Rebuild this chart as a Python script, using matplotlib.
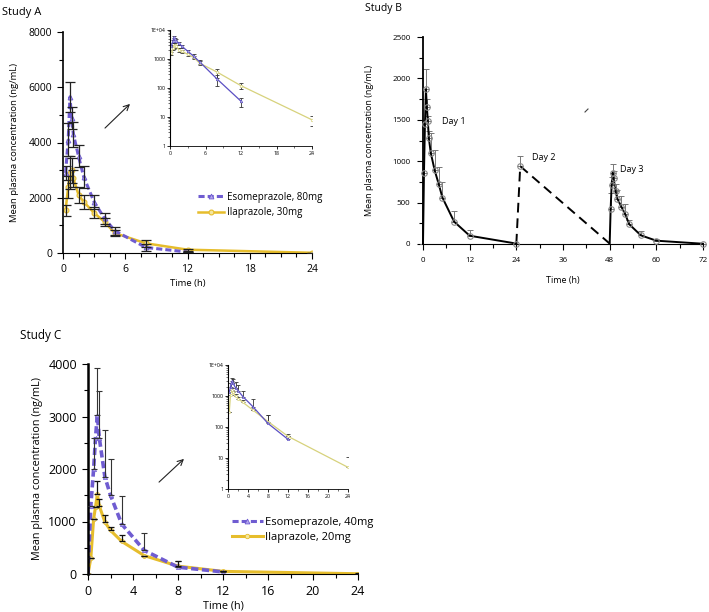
import numpy as np
import matplotlib
matplotlib.use("Agg")
import matplotlib.pyplot as plt
from matplotlib.ticker import MultipleLocator, FixedLocator, LogLocator, NullFormatter
from matplotlib.lines import Line2D

plt.rcParams["font.family"] = ["Open Sans", "DejaVu Sans"]

# ---- Study A (80 mg esomeprazole vs 30 mg ilaprazole)
a_t_eso = [0.25, 0.5, 0.67, 0.83, 1, 1.5, 2, 3, 4, 5, 8, 12]
a_eso = [2900, 4100, 5650, 4900, 4300, 3500, 2750, 1850, 1250, 800, 200, 35]
a_eso_sd = [250, 600, 550, 400, 450, 400, 400, 250, 200, 150, 120, 12]
a_t_ila = [0.25, 0.5, 0.67, 0.83, 1, 1.5, 2, 3, 4, 5, 8, 12, 24]
a_ila = [1550, 2400, 2900, 3000, 2700, 2100, 1850, 1450, 1130, 720, 350, 120, 8]
a_ila_sd = [200, 400, 600, 450, 300, 300, 250, 200, 150, 100, 120, 30, 5]

# ---- Study B (three days)
b_t_d1 = [0, 0.25, 0.5, 0.75, 1, 1.25, 1.5, 2, 3, 4, 5, 8, 12, 24]
b_d1 = [0, 860, 1450, 1870, 1650, 1480, 1280, 1100, 890, 730, 560, 270, 100, 5]
b_d1_sd = [0, 0, 0, 240, 100, 60, 80, 245, 240, 205, 190, 130, 70, 0]
b_t_d2 = [24, 25, 48]
b_d2 = [5, 940, 5]
b_d2_sd = [0, 120, 0]
b_t_d3 = [48, 48.25, 48.5, 48.75, 49, 49.5, 50, 51, 52, 53, 56, 60, 72]
b_d3 = [0, 420, 710, 860, 800, 640, 545, 450, 360, 240, 105, 40, 3]
b_d3_sd = [0, 190, 100, 110, 80, 90, 110, 125, 120, 50, 50, 20, 0]

# ---- Study C (40 mg esomeprazole vs 20 mg ilaprazole)
c_t_eso = [0, 0.25, 0.5, 0.67, 0.83, 1, 1.5, 2, 3, 5, 8, 12]
c_eso = [0, 1300, 2000, 2600, 3030, 2600, 1850, 1500, 950, 450, 130, 40]
c_eso_sd = [0, 0, 600, 0, 900, 880, 900, 700, 530, 330, 120, 20]
c_t_ila = [0, 0.25, 0.5, 0.67, 0.83, 1, 1.5, 2, 3, 5, 8, 12, 24]
c_ila = [0, 300, 1050, 1280, 1520, 1300, 990, 830, 620, 350, 150, 50, 5]
c_ila_sd = [0, 0, 0, 0, 260, 120, 140, 70, 130, 0, 100, 0, 6]

PURPLE = "#6f5cd1"
PURPLE_FACE = "#b3a6ee"
GOLD = "#e6bd2c"
IN_PURPLE = "#5b4fc4"
IN_GOLD = "#d7d27c"

W, H = 709, 612
fig = plt.figure(figsize=(W / 100, H / 100), dpi=100)


def rect(x0, x1, y_top, y_bot):
    return [x0 / W, 1 - y_bot / H, (x1 - x0) / W, (y_bot - y_top) / H]


def style(ax, lw=1.2):
    for s in ["top", "right"]:
        ax.spines[s].set_visible(False)
    ax.spines["left"].set_linewidth(lw)
    ax.spines["bottom"].set_linewidth(0.8)
    ax.tick_params(which="major", length=4, width=0.8, direction="out")
    ax.tick_params(which="minor", length=3, width=0.8, direction="out")


def log_inset(ax, xmax, xstep, fs=3.8):
    ax.set_yscale("log")
    ax.set_ylim(1, 10000)
    ax.set_xlim(0, xmax)
    ax.set_xticks(np.arange(0, xmax + 0.1, xstep))
    ax.xaxis.set_minor_locator(MultipleLocator(xstep / 2))
    ax.yaxis.set_major_locator(FixedLocator([1, 10, 100, 1000, 10000]))
    ax.set_yticklabels(["1", "10", "100", "1000", "1E+04"])
    ax.yaxis.set_minor_locator(LogLocator(base=10, subs=np.arange(2, 10)))
    ax.yaxis.set_minor_formatter(NullFormatter())
    for s in ["top", "right"]:
        ax.spines[s].set_visible(False)
    ax.spines["left"].set_linewidth(0.8)
    ax.spines["bottom"].set_linewidth(0.6)
    ax.tick_params(which="major", length=2.5, width=0.6, labelsize=fs, pad=1)
    ax.tick_params(which="minor", length=1.5, width=0.4)


# ================= Study A =================
axA = fig.add_axes(rect(63, 312, 32, 253))
style(axA)
axA.errorbar(a_t_ila, a_ila, yerr=a_ila_sd, fmt="none", ecolor="#222222",
             elinewidth=0.9, capsize=3.5, capthick=0.9, zorder=3)
axA.errorbar(a_t_eso, a_eso, yerr=a_eso_sd, fmt="none", ecolor="#222222",
             elinewidth=0.9, capsize=3.5, capthick=0.9, zorder=3)
axA.plot(a_t_ila, a_ila, color=GOLD, lw=1.8, marker="o", ms=3.5,
         mfc="#f4e6a0", mec=GOLD, mew=0.8, zorder=2)
axA.plot(a_t_eso, a_eso, color=PURPLE, lw=2.2, ls=(0, (2, 1)), marker="^",
         ms=3.5, mfc=PURPLE_FACE, mec=PURPLE, mew=0.6, zorder=2)
axA.set_xlim(0, 24)
axA.set_ylim(0, 8000)
axA.set_xticks([0, 6, 12, 18, 24])
axA.xaxis.set_minor_locator(MultipleLocator(1.5))
axA.set_yticks([0, 2000, 4000, 6000, 8000])
axA.yaxis.set_minor_locator(MultipleLocator(1000))
axA.tick_params(labelsize=7.5, pad=4)
axA.set_xlabel("Time (h)", fontsize=6.8, labelpad=3)
axA.set_ylabel("Mean plasma concentration (ng/mL)", fontsize=6.8, labelpad=7)
fig.text(2 / W, 1 - 12 / H, "Study A", fontsize=8, ha="left", va="center")

handlesA = [
    Line2D([], [], color=PURPLE, lw=2.2, ls=(0, (2, 1)), marker="^", ms=3.5,
           mfc=PURPLE_FACE, mec=PURPLE, mew=0.6),
    Line2D([], [], color=GOLD, lw=1.8, marker="o", ms=3.5, mfc="#f4e6a0",
           mec=GOLD, mew=0.8),
]
fig.legend(handlesA, ["Esomeprazole, 80mg", "Ilaprazole, 30mg"],
           loc="center left", bbox_to_anchor=(193 / W, 1 - 205 / H),
           frameon=False, fontsize=7, handlelength=2.7, handletextpad=0.3,
           labelspacing=0.45, borderpad=0)

axAi = fig.add_axes(rect(170, 312, 30, 146))
log_inset(axAi, 24, 6)
axAi.errorbar(a_t_ila, a_ila, yerr=np.minimum(a_ila_sd, np.array(a_ila) * 0.4),
              fmt="none", ecolor="#333333", elinewidth=0.6, capsize=1.6,
              capthick=0.6)
axAi.errorbar(a_t_eso, a_eso, yerr=np.minimum(a_eso_sd, np.array(a_eso) * 0.4),
              fmt="none", ecolor="#333333", elinewidth=0.6, capsize=1.6,
              capthick=0.6)
axAi.plot(a_t_ila, a_ila, color=IN_GOLD, lw=0.9, marker="o", ms=1.8,
          mfc="white", mec=IN_GOLD, mew=0.5)
axAi.plot(a_t_eso, a_eso, color=IN_PURPLE, lw=0.9, marker="^", ms=1.8,
          mfc="white", mec=IN_PURPLE, mew=0.5)

axA.annotate("", xy=(132 / W, 1 - 102 / H), xytext=(103 / W, 1 - 130 / H),
             xycoords="figure fraction", textcoords="figure fraction",
             arrowprops=dict(arrowstyle="->", lw=0.8, color="#222222"))

# ================= Study B =================
axB = fig.add_axes(rect(423, 703, 37, 244))
style(axB, lw=1.3)
mk = dict(marker="o", ms=4, mfc="none", mec="#8a8a8a", mew=0.8)
axB.errorbar(b_t_d1, b_d1, yerr=[np.zeros(len(b_d1_sd)), b_d1_sd], fmt="none",
             ecolor="#777777", elinewidth=0.7, capsize=2, capthick=0.7)
axB.errorbar(b_t_d2, b_d2, yerr=[np.zeros(len(b_d2_sd)), b_d2_sd], fmt="none",
             ecolor="#777777", elinewidth=0.7, capsize=2, capthick=0.7)
axB.errorbar(b_t_d3, b_d3, yerr=[np.zeros(len(b_d3_sd)), b_d3_sd], fmt="none",
             ecolor="#777777", elinewidth=0.7, capsize=2, capthick=0.7)
axB.plot(b_t_d1, b_d1, color="black", lw=1.4, zorder=3)
axB.plot(b_t_d1[1:], b_d1[1:], ls="none", zorder=4, **mk)
axB.plot(b_t_d2, b_d2, color="black", lw=1.4, ls=(0, (5, 3)), zorder=3)
axB.plot(b_t_d2[1:2], b_d2[1:2], ls="none", zorder=4, **mk)
axB.plot(b_t_d3, b_d3, color="black", lw=1.4, zorder=3)
axB.plot(b_t_d3[1:], b_d3[1:], ls="none", zorder=4, **mk)
axB.set_xlim(0, 72)
axB.set_ylim(0, 2500)
axB.set_xticks(np.arange(0, 73, 12))
axB.xaxis.set_minor_locator(MultipleLocator(6))
axB.set_yticks(np.arange(0, 2501, 500))
axB.yaxis.set_minor_locator(MultipleLocator(250))
axB.tick_params(labelsize=5.8, pad=5)
axB.set_xlabel("Time (h)", fontsize=6.5, labelpad=9)
axB.set_ylabel("Mean plasma concentration (ng/mL)", fontsize=6.5, labelpad=13)
for c in axB.get_children():
    if hasattr(c, "set_clip_on"):
        c.set_clip_on(False)
axB.text(5.0, 1480, "Day 1", fontsize=6.5, ha="left", va="center")
axB.text(28.0, 1050, "Day 2", fontsize=6.5, ha="left", va="center")
axB.text(50.6, 900, "Day 3", fontsize=6.5, ha="left", va="center")
fig.text(365 / W, 1 - 8 / H, "Study B", fontsize=7.5, ha="left", va="center")
# small stray stroke present in the original figure
fig.add_artist(Line2D([585 / W, 588 / W], [1 - 112 / H, 1 - 109 / H],
                      color="#444444", lw=0.8))

# ================= Study C =================
axC = fig.add_axes(rect(88, 358, 364, 574))
style(axC, lw=1.8)
axC.errorbar(c_t_eso, c_eso, yerr=[np.zeros(len(c_eso_sd)), c_eso_sd],
             fmt="none", ecolor="#333333", elinewidth=0.8, capsize=2.2,
             capthick=0.8, zorder=3)
axC.errorbar(c_t_ila, c_ila, yerr=[np.zeros(len(c_ila_sd)), c_ila_sd],
             fmt="none", ecolor="#111111", elinewidth=0.9, capsize=2.2,
             capthick=0.9, zorder=3)
axC.plot(c_t_ila, c_ila, color=GOLD, lw=2.2, marker="o", ms=2.8,
         mfc="#f4e6a0", mec=GOLD, mew=0.6, zorder=2)
axC.plot(c_t_eso, c_eso, color=PURPLE, lw=2.6, ls=(0, (2, 1)), marker="^",
         ms=3, mfc=PURPLE_FACE, mec=PURPLE, mew=0.5, zorder=2)
axC.set_xlim(0, 24)
axC.set_ylim(0, 4000)
axC.set_xticks(np.arange(0, 25, 4))
axC.xaxis.set_minor_locator(MultipleLocator(2))
axC.set_yticks(np.arange(0, 4001, 1000))
axC.yaxis.set_minor_locator(MultipleLocator(500))
axC.tick_params(labelsize=9, pad=4)
axC.set_xlabel("Time (h)", fontsize=7.8, labelpad=2)
axC.set_ylabel("Mean plasma concentration (ng/mL)", fontsize=7.8, labelpad=4)
fig.text(20 / W, 1 - 335 / H, "Study C", fontsize=8.5, ha="left", va="center")

handlesC = [
    Line2D([], [], color=PURPLE, lw=2.2, ls=(0, (2, 1)), marker="^", ms=3.5,
           mfc=PURPLE_FACE, mec=PURPLE, mew=0.6),
    Line2D([], [], color=GOLD, lw=2.2, marker="o", ms=3.2, mfc="#f4e6a0",
           mec=GOLD, mew=0.6),
]
fig.legend(handlesC, ["Esomeprazole, 40mg", "Ilaprazole, 20mg"],
           loc="center left", bbox_to_anchor=(226 / W, 1 - 530 / H),
           frameon=False, fontsize=8, handlelength=2.8, handletextpad=0.25,
           labelspacing=0.4, borderpad=0)

axCi = fig.add_axes(rect(228, 348, 365, 489))
log_inset(axCi, 24, 4)
axCi.errorbar(c_t_ila, c_ila, yerr=[np.zeros(len(c_ila_sd)), c_ila_sd],
              fmt="none", ecolor="#333333", elinewidth=0.6, capsize=1.2,
              capthick=0.6)
axCi.errorbar(c_t_eso, c_eso, yerr=[np.zeros(len(c_eso_sd)), c_eso_sd],
              fmt="none", ecolor="#333333", elinewidth=0.6, capsize=1.2,
              capthick=0.6)
axCi.plot(c_t_ila[1:], c_ila[1:], color=IN_GOLD, lw=0.9, marker="o", ms=1.6,
          mfc="white", mec=IN_GOLD, mew=0.5)
axCi.plot(c_t_eso[1:], c_eso[1:], color=IN_PURPLE, lw=0.9, marker="^", ms=1.6,
          mfc="white", mec=IN_PURPLE, mew=0.5)

axC.annotate("", xy=(186 / W, 1 - 457 / H), xytext=(157 / W, 1 - 484 / H),
             xycoords="figure fraction", textcoords="figure fraction",
             arrowprops=dict(arrowstyle="->", lw=0.8, color="#222222"))

fig.savefig("out.png", dpi=100)
